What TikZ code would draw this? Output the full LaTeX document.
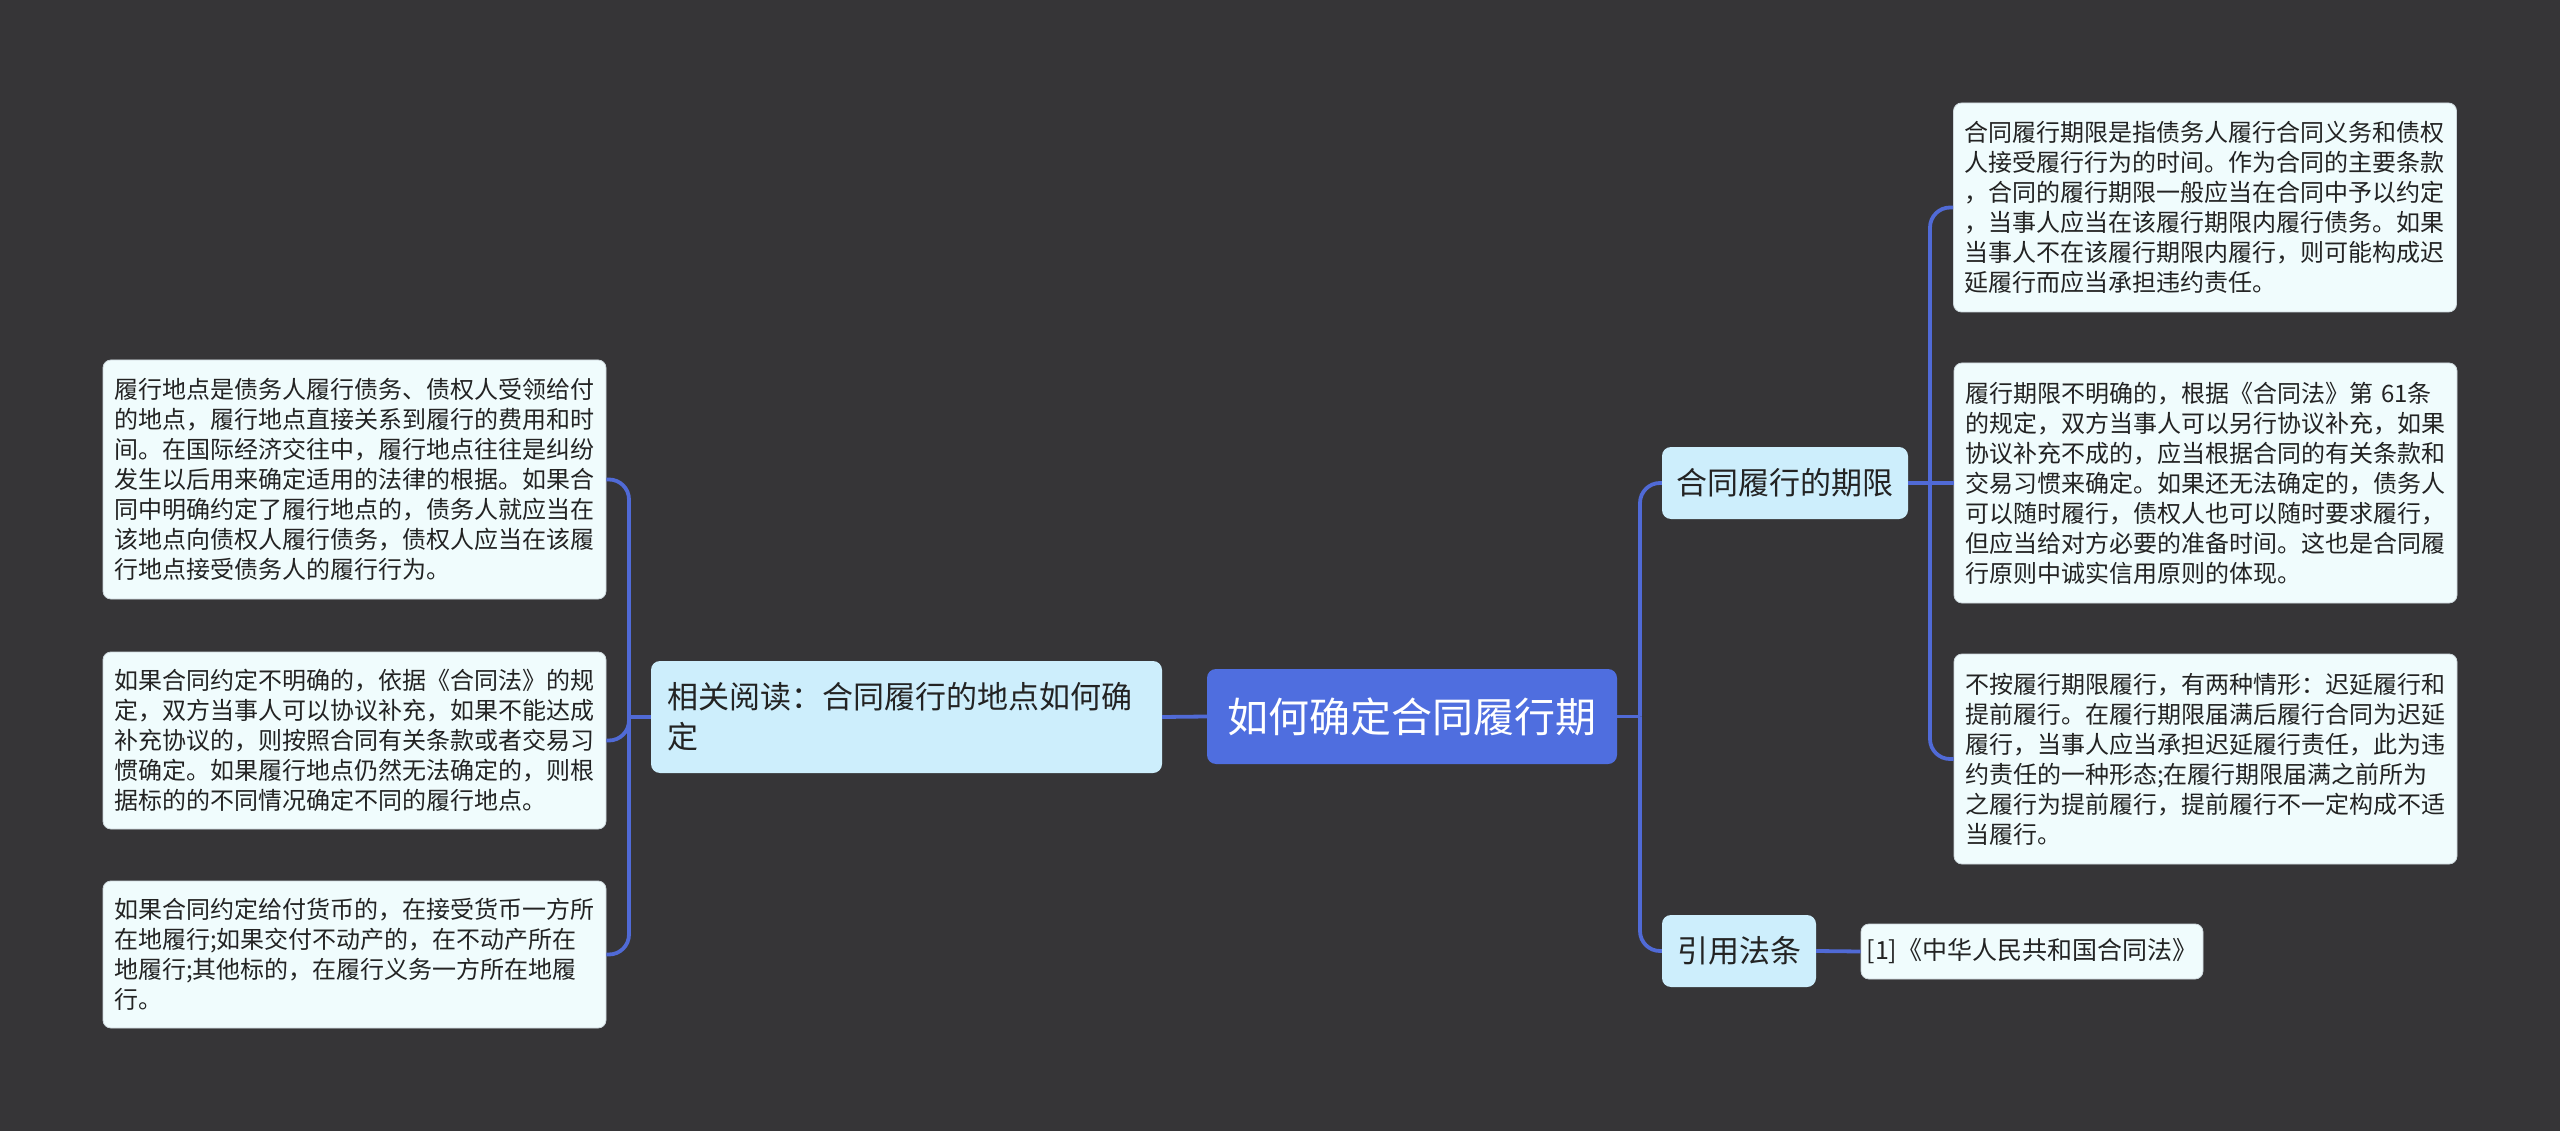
\documentclass[tikz,border=0pt]{standalone}
\usepackage{fontspec}
\setmainfont{Noto Sans CJK SC}
\definecolor{bg}{RGB}{54,53,55}
\definecolor{rootfill}{RGB}{79,110,223}
\definecolor{midfill}{RGB}{205,238,252}
\definecolor{leaffill}{RGB}{240,252,253}
\definecolor{leafline}{RGB}{205,215,220}
\definecolor{linec}{RGB}{80,106,214}
\definecolor{textc}{RGB}{35,35,35}
\begin{document}
\begin{tikzpicture}[x=1pt,y=-1pt,
  rootbox/.style={fill=rootfill, rounded corners=9pt, text=white, inner sep=0pt,
    font=\fontsize{41}{48}\selectfont},
  midbox/.style={fill=midfill, rounded corners=9pt, text=textc, inner sep=0pt,
    font=\fontsize{31}{40}\selectfont},
  leafbase/.style={fill=leaffill, draw=leafline, line width=0.8pt, rounded corners=8pt,
    text=textc, inner ysep=0pt},
  leafbox/.style={leafbase, text width=481pt, align=left, inner xsep=11pt,
    font=\fontsize{24}{30}\selectfont},
  conn/.style={draw=linec, line width=3.8pt, rounded corners=20pt}]
\fill[bg] (0,0) rectangle (2560,1131);
\useasboundingbox (0,0) rectangle (2560,1131);

% nodes
\node[rootbox, minimum width=410pt, minimum height=95pt] (root) at (1412,716.5) {如何确定合同履行期};
\node[midbox, minimum width=511pt, minimum height=112pt, text width=479pt, align=left, inner xsep=16pt] (rel) at (906.5,717) {相关阅读：合同履行的地点如何确\\定};
\node[midbox, minimum width=246pt, minimum height=72pt] (qx) at (1785,483) {合同履行的期限};
\node[midbox, minimum width=154pt, minimum height=72pt] (yy) at (1739,951) {引用法条};

\node[leafbox, minimum height=239pt] (L1) at (354.5,479.5) {履行地点是债务人履行债务、债权人受领给付\\的地点，履行地点直接关系到履行的费用和时\\间。在国际经济交往中，履行地点往往是纠纷\\发生以后用来确定适用的法律的根据。如果合\\同中明确约定了履行地点的，债务人就应当在\\该地点向债权人履行债务，债权人应当在该履\\行地点接受债务人的履行行为。};
\node[leafbox, minimum height=177pt] (L2) at (354.5,740.5) {如果合同约定不明确的，依据《合同法》的规\\定，双方当事人可以协议补充，如果不能达成\\补充协议的，则按照合同有关条款或者交易习\\惯确定。如果履行地点仍然无法确定的，则根\\据标的的不同情况确定不同的履行地点。};
\node[leafbox, minimum height=147pt] (L3) at (354.5,954.5) {如果合同约定给付货币的，在接受货币一方所\\在地履行;如果交付不动产的，在不动产所在\\地履行;其他标的，在履行义务一方所在地履\\行。};

\node[leafbox, minimum height=209pt] (R1) at (2205,207.5) {合同履行期限是指债务人履行合同义务和债权\\人接受履行行为的时间。作为合同的主要条款\\，合同的履行期限一般应当在合同中予以约定\\，当事人应当在该履行期限内履行债务。如果\\当事人不在该履行期限内履行，则可能构成迟\\延履行而应当承担违约责任。};
\node[leafbox, minimum height=240pt] (R2) at (2205.5,483) {履行期限不明确的，根据《合同法》第 61条\\的规定，双方当事人可以另行协议补充，如果\\协议补充不成的，应当根据合同的有关条款和\\交易习惯来确定。如果还无法确定的，债务人\\可以随时履行，债权人也可以随时要求履行，\\但应当给对方必要的准备时间。这也是合同履\\行原则中诚实信用原则的体现。};
\node[leafbox, minimum height=210pt] (R3) at (2205.5,759) {不按履行期限履行，有两种情形：迟延履行和\\提前履行。在履行期限届满后履行合同为迟延\\履行，当事人应当承担迟延履行责任，此为违\\约责任的一种形态;在履行期限届满之前所为\\之履行为提前履行，提前履行不一定构成不适\\当履行。};
\node[leafbase, inner xsep=0pt, minimum width=342pt, minimum height=55pt, font=\fontsize{25}{30}\selectfont] (ref) at (2032,951.5) {[1]《中华人民共和国合同法》};

% junctions
\coordinate (jR) at (1640,716.5);
\coordinate (jL) at (629,717);
\coordinate (jQ) at (1930,483);

% connectors
\draw[conn] (root.east) -- (jR);
\draw[conn] (jR) |- (qx.west);
\draw[conn] (jR) |- (yy.west);
\draw[conn] (root.west) -- (rel.east);
\draw[conn] (rel.west) -- (jL);
\draw[conn] (jL) |- (L1.east);
\draw[conn] (jL) |- (L2.east);
\draw[conn] (jL) |- (L3.east);
\draw[conn] (qx.east) -- (jQ);
\draw[conn] (jQ) |- (R1.west);
\draw[conn] (jQ) -- (R2.west);
\draw[conn] (jQ) |- (R3.west);
\draw[conn] (yy.east) -- (ref.west);
\end{tikzpicture}
\end{document}
